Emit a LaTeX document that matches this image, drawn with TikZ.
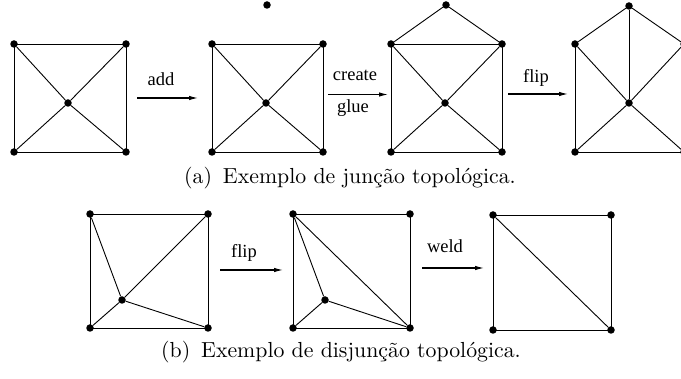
\documentclass[tikz,border=0pt]{standalone}
\usepackage{fontspec}
\newfontfamily\timesf{Liberation Serif}
\newfontfamily\capfont[Extension=.otf]{lmroman10-regular}
\usetikzlibrary{arrows.meta}
\tikzset{
  dot/.style={circle,fill=black,inner sep=0pt,minimum size=7.5pt},
  edge/.style={line width=0.9pt,black},
  op/.style={line width=1.1pt,-{Latex[length=9pt,width=4.5pt]}},
  oplabel/.style={anchor=base,inner sep=0pt,font=\timesf\fontsize{18.5}{20}\selectfont},
  captext/.style={anchor=base,inner sep=0pt,font=\capfont\fontsize{21.8}{25}\selectfont}
}
\begin{document}
\begin{tikzpicture}[x=1pt,y=-1pt]
\clip (0,0) rectangle (681,379);
\fill[white] (0,0) rectangle (681,379);
% panel a1
\node[dot] (a1tl) at (14,44) {};
\node[dot] (a1tr) at (126,44) {};
\node[dot] (a1bl) at (14,152) {};
\node[dot] (a1br) at (126,152) {};
\node[dot] (a1c) at (68,103) {};
\draw[edge] (a1tl.center) -- (a1tr.center) -- (a1br.center) -- (a1bl.center) -- cycle;
\draw[edge] (a1tl) -- (a1c) -- (a1br);
\draw[edge] (a1tr) -- (a1c) -- (a1bl);
% arrow add
\coordinate (ad1) at (137,98);
\coordinate (ad2) at (198,98);
\draw[op] (ad1) -- (ad2);
\node[oplabel] (addl) at (161,86) {add};
% panel a2
\node[dot] (a2p) at (267,5) {};
\node[dot] (a2tl) at (212,44) {};
\node[dot] (a2tr) at (323,44) {};
\node[dot] (a2bl) at (212,152) {};
\node[dot] (a2br) at (323,152) {};
\node[dot] (a2c) at (266,103) {};
\draw[edge] (a2tl.center) -- (a2tr.center) -- (a2br.center) -- (a2bl.center) -- cycle;
\draw[edge] (a2tl) -- (a2c) -- (a2br);
\draw[edge] (a2tr) -- (a2c) -- (a2bl);
% arrow create/glue
\coordinate (cg1) at (328,94.5);
\coordinate (cg2) at (388,94.5);
\draw[op] (cg1) -- (cg2);
\node[oplabel] (createl) at (355,81) {create};
\node[oplabel] (gluel) at (353,113) {glue};
% panel a3
\node[dot] (a3p) at (446,5) {};
\node[dot] (a3tl) at (391,44) {};
\node[dot] (a3tr) at (502,44) {};
\node[dot] (a3bl) at (391,152) {};
\node[dot] (a3br) at (502,152) {};
\node[dot] (a3c) at (445,103) {};
\draw[edge] (a3tl.center) -- (a3tr.center) -- (a3br.center) -- (a3bl.center) -- cycle;
\draw[edge] (a3tl) -- (a3p) -- (a3tr);
\draw[edge] (a3tl) -- (a3c) -- (a3br);
\draw[edge] (a3tr) -- (a3c) -- (a3bl);
% arrow flip
\coordinate (fl1) at (508,94);
\coordinate (fl2) at (568,94);
\draw[op] (fl1) -- (fl2);
\node[oplabel] (flipl) at (536,83) {flip};
% panel a4
\node[dot] (a4p) at (629,6) {};
\node[dot] (a4tl) at (575,44) {};
\node[dot] (a4tr) at (684,44) {};
\node[dot] (a4bl) at (575,152) {};
\node[dot] (a4br) at (684,152) {};
\node[dot] (a4c) at (629,103) {};
\draw[edge] (a4tl.center) -- (a4bl.center) -- (a4br.center);
\draw[edge] (a4tl) -- (a4p) -- (a4tr);
\draw[edge] (a4p) -- (a4c);
\draw[edge] (a4tl) -- (a4c) -- (a4br);
\draw[edge] (a4tr) -- (a4c) -- (a4bl);
% caption a
\node[captext] (capa) at (350,184) {(a)\enspace Exemplo de junção topológica.};
% panel b1
\node[dot] (b1tl) at (90,214) {};
\node[dot] (b1tr) at (208,214) {};
\node[dot] (b1bl) at (90,328) {};
\node[dot] (b1br) at (208,328) {};
\node[dot] (b1c) at (122,300) {};
\draw[edge] (b1tl.center) -- (b1tr.center) -- (b1br.center) -- (b1bl.center) -- cycle;
\draw[edge] (b1tl) -- (b1c) -- (b1tr);
\draw[edge] (b1bl) -- (b1c) -- (b1br);
% arrow flip b
\coordinate (fb1) at (220,270);
\coordinate (fb2) at (283,270);
\draw[op] (fb1) -- (fb2);
\node[oplabel] (flipbl) at (244,258) {flip};
% panel b2
\node[dot] (b2tl) at (293,214) {};
\node[dot] (b2tr) at (410,214) {};
\node[dot] (b2bl) at (293,328) {};
\node[dot] (b2br) at (410,328) {};
\node[dot] (b2c) at (325,300) {};
\draw[edge] (b2tl.center) -- (b2tr.center) -- (b2br.center) -- (b2bl.center) -- cycle;
\draw[edge] (b2tl) -- (b2c) -- (b2br);
\draw[edge] (b2bl) -- (b2c);
\draw[edge] (b2tl) -- (b2br);
% arrow weld
\coordinate (wd1) at (422,268);
\coordinate (wd2) at (484,268);
\draw[op] (wd1) -- (wd2);
\node[oplabel] (weldl) at (445,253) {weld};
% panel b3
\node[dot] (b3tl) at (493,215) {};
\node[dot] (b3tr) at (611,215) {};
\node[dot] (b3bl) at (493,330) {};
\node[dot] (b3br) at (611,330) {};
\draw[edge] (b3tl.center) -- (b3tr.center) -- (b3br.center) -- (b3bl.center) -- cycle;
\draw[edge] (b3tl) -- (b3br);
% caption b
\node[captext] (capb) at (341,358) {(b)\enspace Exemplo de disjunção topológica.};
\end{tikzpicture}
\end{document}
